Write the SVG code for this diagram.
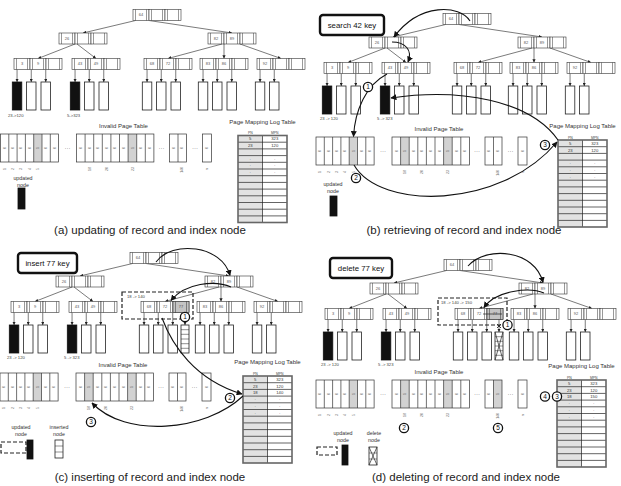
<svg xmlns="http://www.w3.org/2000/svg" width="621" height="486" viewBox="0 0 621 486">
<style>
text{font-family:"Liberation Sans",Arial,sans-serif}
.cell{fill:#fff;stroke:#333;stroke-width:.6}
.bar{stroke:#333;stroke-width:.5;fill:none}
.key{font-size:4px;fill:#555;text-anchor:middle}
.leaf{fill:#fff;stroke:#222;stroke-width:.8}
.blk{fill:#111;stroke:#111;stroke-width:.8}
.edge{stroke:#222;stroke-width:.6;fill:none;marker-end:url(#ah)}
.flow{stroke:#111;stroke-width:1.1;fill:none;marker-end:url(#ahb)}
.tiny{font-size:4.2px;fill:#444}
.ttl{font-size:6px;fill:#333;text-anchor:middle}
.cap{font-size:11.5px;fill:#222;text-anchor:middle}
.frame{fill:none;stroke:#333;stroke-width:.7}
.g{fill:#d2d2d2}
.bit{font-size:3.4px;fill:#666;text-anchor:middle}
.dots{font-size:6px;fill:#555;text-anchor:middle}
.row{font-size:4.2px;fill:#333;text-anchor:middle}
.hdr{font-size:3.4px;fill:#444;text-anchor:middle}
.box{fill:#fff;stroke:#111;stroke-width:2.4}
.boxt{font-size:7.8px;fill:#111;text-anchor:middle}
.step{fill:#fff;stroke:#111;stroke-width:1.3}
.stept{font-size:6.5px;fill:#111;text-anchor:middle}
.dash{fill:none;stroke:#222;stroke-width:1.2;stroke-dasharray:4 2}
.leg{font-size:5.3px;fill:#333;text-anchor:middle}
.hl{fill:#c4c4c4;stroke:#333;stroke-width:.6}
.thin{stroke:#222;stroke-width:.5;fill:none}
</style>
<defs>
<marker id="ah" viewBox="0 0 6 6" refX="6" refY="3" markerWidth="3.2" markerHeight="3.2" markerUnits="userSpaceOnUse" orient="auto"><path d="M0,0L6,3L0,6z" fill="#222"/></marker>
<marker id="ahb" viewBox="0 0 10 10" refX="9" refY="5" markerWidth="6" markerHeight="6" markerUnits="userSpaceOnUse" orient="auto"><path d="M0,0L10,5L0,10z" fill="#111"/></marker>

<!-- three-key B+-tree node with pointer slots -->
<g id="node3">
<rect class="cell" x="0" y="0" width="16" height="11"/><rect class="cell" x="16" y="0" width="16" height="11"/><rect class="cell" x="32" y="0" width="16" height="11"/>
<path class="bar" d="M2.5,0V11M13.5,0V11M18.5,0V11M29.5,0V11M34.5,0V11M45.5,0V11"/>
</g>

<!-- the index tree shared by all four panels -->
<g id="btree">
<g id="bt-edges">
<path class="edge" d="M135.5,20.5L83,33"/>
<path class="edge" d="M149,20.5L232,33"/>
<path class="edge" d="M75,44L38,58.5"/>
<path class="edge" d="M77,44L96,58.5"/>
<path class="edge" d="M222,44L168,58.5"/>
<path class="edge" d="M224,44L224,58.5"/>
<path class="edge" d="M240,44L281,58.5"/>
<path class="edge" d="M17.05,69.5V82"/><path class="edge" d="M31.25,69.5V82"/><path class="edge" d="M45.75,69.5V82"/>
<path class="edge" d="M75.05,69.5V82"/><path class="edge" d="M89.25,69.5V82"/><path class="edge" d="M103.75,69.5V82"/>
<path class="edge" d="M147.05,69.5V82"/><path class="edge" d="M161.25,69.5V82"/><path class="edge" d="M175.75,69.5V82"/>
<path class="edge" d="M203.05,69.5V82"/><path class="edge" d="M217.25,69.5V82"/><path class="edge" d="M231.75,69.5V82"/>
<path class="edge" d="M260.05,69.5V82"/><path class="edge" d="M274.25,69.5V82"/>
</g>
<g id="bt-root"><use href="#node3" x="133" y="9.5"/><text class="key" x="141" y="16.4">64</text></g>
<g id="bt-26"><use href="#node3" x="59" y="33"/><text class="key" x="67" y="39.9">26</text></g>
<g id="bt-82"><use href="#node3" x="208" y="33"/><text class="key" x="216" y="39.9">82</text><text class="key" x="232" y="39.9">89</text></g>
<g id="bt-3"><use href="#node3" x="14" y="58.5"/><text class="key" x="22" y="65.4">3</text><text class="key" x="38" y="65.4">9</text></g>
<g id="bt-43"><use href="#node3" x="72" y="58.5"/><text class="key" x="80" y="65.4">43</text><text class="key" x="96" y="65.4">49</text></g>
<g id="bt-68"><use href="#node3" x="144" y="58.5"/><text class="key" x="152" y="65.4">68</text><text class="key" x="168" y="65.4">72</text></g>
<g id="bt-83"><use href="#node3" x="200" y="58.5"/><text class="key" x="208" y="65.4">83</text><text class="key" x="224" y="65.4">86</text></g>
<g id="bt-92"><use href="#node3" x="257" y="58.5"/><text class="key" x="265" y="65.4">92</text></g>
<g id="bt-pages">
<rect class="blk" x="12.3" y="82" width="9.5" height="28"/><rect class="leaf" x="26.5" y="82" width="9.5" height="28"/><rect class="leaf" x="41" y="82" width="9.5" height="28"/>
<rect class="blk" x="70.3" y="82" width="9.5" height="28"/><rect class="leaf" x="84.5" y="82" width="9.5" height="28"/><rect class="leaf" x="99" y="82" width="9.5" height="28"/>
<rect class="leaf" x="142.3" y="82" width="9.5" height="28"/><rect class="leaf" x="156.5" y="82" width="9.5" height="28"/><rect class="leaf" x="171" y="82" width="9.5" height="28"/>
<rect class="leaf" x="198.3" y="82" width="9.5" height="28"/><rect class="leaf" x="212.5" y="82" width="9.5" height="28"/><rect class="leaf" x="227" y="82" width="9.5" height="28"/>
<rect class="leaf" x="255.3" y="82" width="9.5" height="28"/><rect class="leaf" x="269.5" y="82" width="9.5" height="28"/>
</g>
</g>

<!-- invalid page table: frames, bit values and page numbers -->
<g id="ipt">
<text class="ttl" x="123" y="-6">Invalid Page Table</text>
<rect class="frame" x="0" y="0" width="58.1" height="28"/>
<rect class="frame" x="76" y="0" width="77.4" height="28"/>
<rect class="frame" x="169" y="0" width="17" height="28"/>
<rect class="frame" x="202" y="0" width="9" height="28"/>
<path class="frame" d="M8.3,0V28M16.6,0V28M24.9,0V28M33.2,0V28M41.5,0V28M49.8,0V28M84.6,0V28M93.2,0V28M101.8,0V28M110.4,0V28M119,0V28M127.6,0V28M136.2,0V28M144.8,0V28M177.5,0V28"/>
<text class="dots" x="67" y="16">···</text><text class="dots" x="161" y="16">···</text><text class="dots" x="194.5" y="16">···</text>
<text class="bit" transform="translate(5.35,14) rotate(-90)">0</text>
<text class="bit" transform="translate(13.65,14) rotate(-90)">0</text>
<text class="bit" transform="translate(21.95,14) rotate(-90)">0</text>
<text class="bit" transform="translate(30.25,14) rotate(-90)">0</text>
<text class="bit" transform="translate(38.55,14) rotate(-90)">1</text>
<text class="bit" transform="translate(46.85,14) rotate(-90)">0</text>
<text class="bit" transform="translate(55.15,14) rotate(-90)">0</text>
<text class="bit" transform="translate(81.5,14) rotate(-90)">0</text>
<text class="bit" transform="translate(98.7,14) rotate(-90)">0</text>
<text class="bit" transform="translate(107.3,14) rotate(-90)">0</text>
<text class="bit" transform="translate(115.9,14) rotate(-90)">0</text>
<text class="bit" transform="translate(124.5,14) rotate(-90)">0</text>
<text class="bit" transform="translate(133.1,14) rotate(-90)">1</text>
<text class="bit" transform="translate(141.7,14) rotate(-90)">0</text>
<text class="bit" transform="translate(150.3,14) rotate(-90)">0</text>
<text class="bit" transform="translate(174.45,14) rotate(-90)">0</text>
<text class="bit" transform="translate(207.7,14) rotate(-90)">0</text>
<text class="bit" transform="translate(5.35,35) rotate(-90)">1</text>
<text class="bit" transform="translate(13.65,35) rotate(-90)">2</text>
<text class="bit" transform="translate(21.95,35) rotate(-90)">3</text>
<text class="bit" transform="translate(30.25,35) rotate(-90)">4</text>
<text class="bit" transform="translate(38.55,35) rotate(-90)">5</text>
<text class="bit" transform="translate(90.1,35) rotate(-90)">18</text>
<text class="bit" transform="translate(107.3,35) rotate(-90)">20</text>
<text class="bit" transform="translate(133.1,35) rotate(-90)">23</text>
<text class="bit" transform="translate(182.95,36) rotate(-90)">140</text>
<text class="bit" transform="translate(207.7,35) rotate(-90)">n</text>
</g>

<!-- page mapping log table -->
<g id="pmlt">
<text class="ttl" x="24.5" y="-12">Page Mapping Log Table</text>
<text class="hdr" x="12.25" y="-1.2">PN</text><text class="hdr" x="36.75" y="-1.2">MPN</text>
<rect x="0" y="0" width="24.5" height="87" fill="#e2e2e2"/>
<path d="M0,6.7H49M0,13.4H49M0,20.1H49M0,26.8H49M0,33.5H49M0,40.2H49M0,46.9H49M0,53.6H49M0,60.3H49M0,67H49M0,73.7H49M0,80.4H49M24.5,0V87" stroke="#222" stroke-width=".7" fill="none"/>
<rect x="0" y="0" width="49" height="87" fill="none" stroke="#666" stroke-width="1.6"/>
<text class="row" x="12.25" y="4.9">5</text><text class="row" x="36.75" y="4.9">323</text>
<text class="row" x="12.25" y="11.6">23</text><text class="row" x="36.75" y="11.6">120</text>
<text class="row" x="12.25" y="25.2">·</text><text class="row" x="36.75" y="25.2">·</text>
<text class="row" x="12.25" y="31.9">·</text><text class="row" x="36.75" y="31.9">·</text>
<text class="row" x="12.25" y="38.6">·</text><text class="row" x="36.75" y="38.6">·</text>
</g>
</defs>

<rect width="621" height="486" fill="#fff"/>

<!-- (a) updating -->
<g id="panel-a">
<use href="#btree"/>
<text class="tiny" x="8" y="117">23-&gt;120</text>
<text class="tiny" x="67" y="117">5-&gt;323</text>
<g id="a-ipt" transform="translate(0.5,134)">
<rect class="g" x="33.2" y="0" width="8.3" height="28"/><rect class="g" x="127.6" y="0" width="8.6" height="28"/>
<use href="#ipt"/>
<text class="bit" transform="translate(90.1,14) rotate(-90)">0</text>
<text class="bit" transform="translate(182.95,14) rotate(-90)">0</text>
</g>
<use id="a-pmlt" href="#pmlt" x="238" y="135.5"/>
<g id="a-legend">
<text class="leg" x="23" y="180">updated</text><text class="leg" x="23" y="186.5">node</text>
<rect class="blk" x="18" y="188" width="7" height="21"/>
</g>
<text class="cap" x="150" y="234">(a) updating of record and index node</text>
</g>

<!-- (b) retrieving -->
<g id="panel-b">
<use href="#btree" transform="translate(310,4)"/>
<text class="tiny" x="320" y="120">23 -&gt; 120</text>
<text class="tiny" x="377" y="120">5 -&gt; 323</text>
<g id="b-ipt" transform="translate(316,137)">
<rect class="g" x="33.2" y="0" width="8.3" height="28"/><rect class="g" x="84.6" y="0" width="8.6" height="28"/><rect class="g" x="127.6" y="0" width="8.6" height="28"/>
<use href="#ipt"/>
<text class="bit" transform="translate(90.1,14) rotate(-90)">1</text>
<text class="bit" transform="translate(182.95,14) rotate(-90)">0</text>
</g>
<use id="b-pmlt" href="#pmlt" x="558" y="140"/>
<g id="b-legend">
<text class="leg" x="333" y="186">updated</text><text class="leg" x="333" y="192.5">node</text>
<rect class="blk" x="330" y="196" width="7" height="20"/>
</g>
<g id="b-query"><rect class="box" x="320" y="15" width="64" height="20" rx="3"/><text class="boxt" x="352" y="27.7">search 42 key</text></g>
<g id="b-flows">
<path class="flow" d="M470,21C460,5 420,2 394,37"/>
<path class="flow" d="M392,42C405,42 413,50 408,62"/>
<path class="flow" d="M387,74C366,85 355,110 353.5,136.5"/>
<path class="flow" d="M558,140C530,100 460,88 391,98"/>
<path class="flow" d="M354,165C380,210 500,210 557,142"/>
</g>
<g id="b-steps">
<circle class="step" cx="368" cy="87" r="4.6"/><text class="stept" x="368" y="89.3">1</text>
<circle class="step" cx="356" cy="178" r="4.6"/><text class="stept" x="356" y="180.3">2</text>
<circle class="step" cx="545" cy="145" r="4.6"/><text class="stept" x="545" y="147.3">3</text>
</g>
<text class="cap" x="464" y="234">(b) retrieving of record and index node</text>
</g>

<!-- (c) inserting -->
<g id="panel-c">
<use href="#btree" transform="translate(-3,243)"/>
<text class="tiny" x="7" y="359">23 -&gt; 120</text>
<text class="tiny" x="64" y="359">5 -&gt; 323</text>
<g id="c-new-key">
<rect class="hl" x="173" y="301.5" width="16" height="11"/>
<path class="bar" d="M175.5,301.5V312.5M186.5,301.5V312.5"/>
<text class="key" x="181" y="308.4">77</text>
</g>
<g id="c-new-page">
<path class="edge" d="M185,312.5V325"/>
<rect class="leaf" x="181" y="325" width="8" height="28"/>
<path class="thin" d="M181,329.7H189M181,334.3H189M181,339H189M181,343.7H189M181,348.3H189"/>
</g>
<rect class="dash" x="122" y="292" width="71" height="27"/>
<text class="tiny" x="127" y="297.8">18 -&gt; 140</text>
<g id="c-ipt" transform="translate(0,373)">
<rect class="g" x="33.2" y="0" width="8.3" height="28"/><rect class="g" x="84.6" y="0" width="8.6" height="28"/><rect class="g" x="127.6" y="0" width="8.6" height="28"/>
<use href="#ipt"/>
<text class="bit" transform="translate(90.1,14) rotate(-90)">1</text>
<text class="bit" transform="translate(182.95,14) rotate(-90)">0</text>
</g>
<g id="c-pmlt">
<use href="#pmlt" x="243" y="376"/>
<text class="row" x="255.25" y="394.2">18</text><text class="row" x="279.75" y="394.2">140</text>
</g>
<g id="c-legend">
<text class="leg" x="21" y="429">updated</text><text class="leg" x="21" y="435.5">node</text>
<rect class="dash" x="1" y="442" width="25" height="11"/>
<rect class="blk" x="27" y="440" width="6" height="19"/>
<text class="leg" x="59" y="429">inserted</text><text class="leg" x="59" y="435.5">node</text>
<rect class="leaf" x="55" y="440" width="8" height="18"/>
<path class="thin" d="M55,446H63M55,452H63"/>
</g>
<g id="c-query"><rect class="box" x="18" y="253" width="59" height="20" rx="3"/><text class="boxt" x="47.5" y="265.7">insert 77 key</text></g>
<g id="c-flows">
<path class="flow" d="M156,262C172,240 222,245 230,275.5"/>
<path class="flow" d="M231,287C215,280 185,283 171,300.5"/>
<path class="flow" d="M162,318C172,345 195,380 242,394"/>
<path class="flow" d="M243,396C205,432 125,438 92,403"/>
</g>
<g id="c-steps">
<circle class="step" cx="185" cy="317" r="4.6"/><text class="stept" x="185" y="319.3">1</text>
<circle class="step" cx="230" cy="398" r="4.6"/><text class="stept" x="230" y="400.3">2</text>
<circle class="step" cx="91" cy="422" r="4.6"/><text class="stept" x="91" y="424.3">3</text>
</g>
<text class="cap" x="150" y="481">(c) inserting of record and index node</text>
</g>

<!-- (d) deleting -->
<g id="panel-d">
<use href="#btree" transform="translate(311,250)"/>
<text class="tiny" x="321" y="366">23 -&gt; 120</text>
<text class="tiny" x="378" y="366">5 -&gt; 323</text>
<g id="d-old-key">
<rect class="hl" x="487" y="308.5" width="16" height="11"/>
<path class="bar" d="M489.5,308.5V319.5M500.5,308.5V319.5"/>
<text class="key" x="495" y="315.4">77</text>
<path d="M483,314H502" stroke="#222" stroke-width=".7"/>
</g>
<g id="d-old-page">
<path class="edge" d="M499,319.5V332"/>
<path d="M497,324L501,328M501,324L497,328" stroke="#111" stroke-width=".8"/>
<rect class="leaf" x="495" y="332" width="8" height="28"/>
<path class="thin" d="M495,336.7H503M495,341.3H503M495,346H503M495,350.7H503M495,355.3H503"/>
<path d="M495,332L503,360M503,332L495,360" stroke="#222" stroke-width=".7"/>
</g>
<rect class="dash" x="438" y="298" width="69" height="27"/>
<text class="tiny" x="441" y="303.8">18 -&gt; 140 -&gt; 150</text>
<g id="d-ipt" transform="translate(316,380)">
<rect class="g" x="33.2" y="0" width="8.3" height="28"/><rect class="g" x="84.6" y="0" width="8.6" height="28"/><rect class="g" x="127.6" y="0" width="8.6" height="28"/><rect class="g" x="177.5" y="0" width="8.5" height="28"/>
<use href="#ipt"/>
<text class="bit" transform="translate(90.1,14) rotate(-90)">1</text>
<text class="bit" transform="translate(182.95,14) rotate(-90)">1</text>
</g>
<g id="d-pmlt">
<use href="#pmlt" x="557" y="380"/>
<text class="row" x="569.25" y="398.2">18</text><text class="row" x="593.75" y="398.2">150</text>
</g>
<g id="d-legend">
<text class="leg" x="343" y="435">updated</text><text class="leg" x="343" y="441.5">node</text>
<rect class="dash" x="317" y="447" width="20" height="8"/>
<rect class="blk" x="342" y="445" width="6" height="20"/>
<text class="leg" x="374" y="435">delete</text><text class="leg" x="374" y="441.5">node</text>
<rect class="leaf" x="369" y="447" width="8" height="18"/>
<path class="thin" d="M369,453H377M369,459H377"/>
<path d="M369,447L377,465M377,447L369,465" stroke="#222" stroke-width=".7"/>
</g>
<g id="d-query"><rect class="box" x="330" y="258" width="62" height="20" rx="3"/><text class="boxt" x="361" y="270.7">delete 77 key</text></g>
<g id="d-flows">
<path class="flow" d="M468,266C487,245 535,250 543,282.5"/>
<path class="flow" d="M544,293C530,287 496,290 484,307.5"/>
</g>
<g id="d-steps">
<circle class="step" cx="507.5" cy="325" r="4.6"/><text class="stept" x="507.5" y="327.3">1</text>
<circle class="step" cx="404" cy="428" r="4.6"/><text class="stept" x="404" y="430.3">2</text>
<circle class="step" cx="557" cy="396.5" r="4.6"/><text class="stept" x="557" y="398.8">3</text>
<circle class="step" cx="545" cy="396.5" r="4.6"/><text class="stept" x="545" y="398.8">4</text>
<circle class="step" cx="498" cy="428" r="4.6"/><text class="stept" x="498" y="430.3">5</text>
</g>
<text class="cap" x="466" y="481">(d) deleting of record and index node</text>
</g>
</svg>
